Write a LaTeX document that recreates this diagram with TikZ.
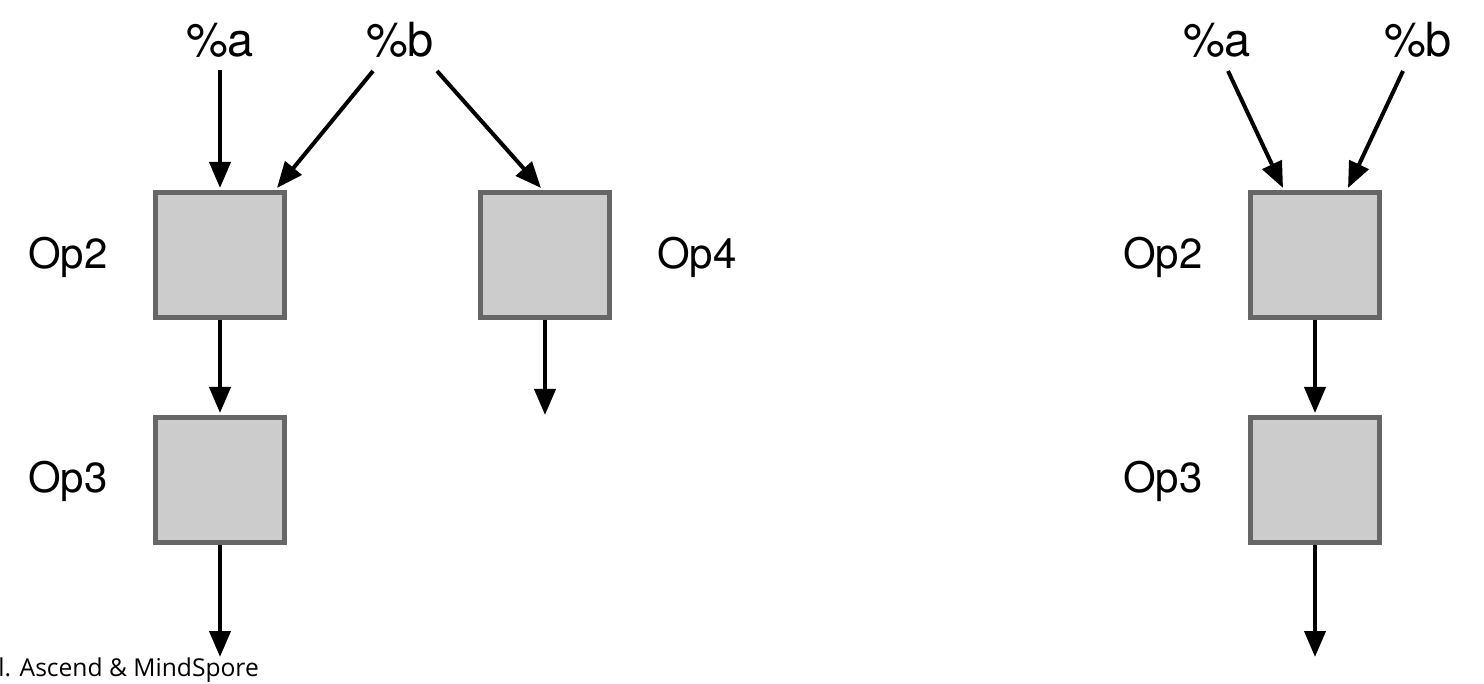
\documentclass[tikz,border=0pt]{standalone}
\usepackage{fontspec}
\setmainfont{TeX Gyre Heros}
\newfontfamily\footfont{Open Sans}
\usetikzlibrary{arrows.meta,calc}
\definecolor{boxfill}{HTML}{CCCCCC}
\definecolor{boxline}{HTML}{666666}
\tikzset{
  opbox/.style={draw=boxline, fill=boxfill, line width=2.5pt, minimum width=64.5pt, minimum height=62.5pt, inner sep=0pt},
  lbl/.style={font=\fontsize{21}{25}\selectfont, inner sep=0pt},
  vlbl/.style={font=\fontsize{23.5}{28}\selectfont, inner sep=0pt},
  arr/.style={line width=2pt, -{Triangle[length=13pt,width=10.5pt]}},
}
\begin{document}
\begin{tikzpicture}[x=0.5pt,y=-0.5pt]
\useasboundingbox (0,0) rectangle (1484,684);
% left graph
\node[opbox] (op2) at (220,255) {};
\node[opbox] (op3) at (220,480) {};
\node[opbox] (op4) at (545,255) {};
\node[vlbl] (a1) at (220,40) {\%a};
\node[vlbl] (b1) at (400,40) {\%b};
\node[lbl] (op2l) at (68,257) {Op2};
\node[lbl] (op3l) at (68,481) {Op3};
\node[lbl] (op4l) at (697,257) {Op4};
\coordinate (a1s) at (220,70);
\coordinate (b1l) at (373,71);
\coordinate (b1r) at (437,71);
\coordinate (op3out) at (220,657);
\coordinate (op4out) at (545,415);
\draw[arr] (a1s) -- ($(op2.north)+(0,-2)$);
\draw[arr] (b1l) -- ($(op2.north east)+(-10,-2)$);
\draw[arr] (b1r) -- ($(op4.north)+(-4,-2)$);
\draw[arr] (op2.south) -- ($(op3.north)+(0,-2)$);
\draw[arr] (op3.south) -- (op3out);
\draw[arr] (op4.south) -- (op4out);
% right graph
\node[opbox] (rop2) at (1315,255) {};
\node[opbox] (rop3) at (1315,480) {};
\node[vlbl] (a2) at (1217,40) {\%a};
\node[vlbl] (b2) at (1418,40) {\%b};
\node[lbl] (rop2l) at (1163,257) {Op2};
\node[lbl] (rop3l) at (1163,481) {Op3};
\coordinate (a2s) at (1228,71);
\coordinate (b2s) at (1403,71);
\coordinate (rop3out) at (1315,657);
\draw[arr] (a2s) -- ($(rop2.north)+(-32,-2)$);
\draw[arr] (b2s) -- ($(rop2.north)+(33,-2)$);
\draw[arr] (rop2.south) -- ($(rop3.north)+(0,-2)$);
\draw[arr] (rop3.south) -- (rop3out);
% footer
\node[anchor=west, inner sep=0pt, font=\footfont\fontsize{12.3}{14}\selectfont] (foot) at (-2,670) {l. Ascend \& MindSpore};
\end{tikzpicture}
\end{document}
